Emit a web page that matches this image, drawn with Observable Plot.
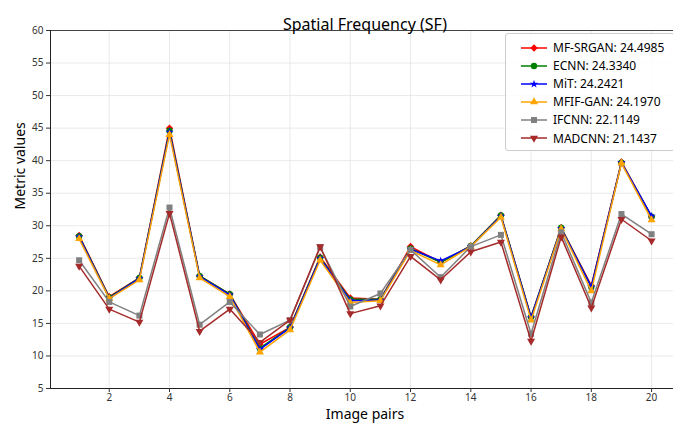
<!DOCTYPE html>
<html>
<head>
<meta charset="utf-8">
<script src="https://cdn.jsdelivr.net/npm/d3@7"></script>
<script src="https://cdn.jsdelivr.net/npm/@observablehq/plot@0.6"></script>
<style>
  html, body { margin: 0; padding: 0; background: #fff; }
  #wrap { position: relative; width: 673px; height: 423px; overflow: hidden; font-family: "Noto Sans", sans-serif; }
  #legend { position: absolute; left: 505px; top: 33px; width: 170px; height: 118px; box-sizing: border-box;
            border: 1px solid #cccccc; border-radius: 3px; background: rgba(255,255,255,0.85); }
  .row { position: absolute; left: 0; height: 18px; display: flex; align-items: center; }
  .row span { font-size: 12px; color: #000; white-space: nowrap; }
</style>
</head>
<body>
<div id="wrap"></div>
<script>
const pairs = [1,2,3,4,5,6,7,8,9,10,11,12,13,14,15,16,17,18,19,20];
const models = ["MF-SRGAN", "ECNN", "MiT", "MFIF-GAN", "IFCNN", "MADCNN"];
const scores = ["24.4985", "24.3340", "24.2421", "24.1970", "22.1149", "21.1437"];
const mfSrgan = [28.5, 19.1, 22.0, 45.0, 22.3, 19.5, 11.8, 14.4, 25.2, 18.9, 18.7, 26.8, 24.4, 26.9, 31.6, 16.0, 29.7, 20.8, 39.8, 31.4];
const ecnn    = [28.4, 19.0, 22.0, 44.6, 22.3, 19.5, 11.2, 14.4, 25.1, 18.7, 18.7, 26.5, 24.4, 26.9, 31.6, 16.0, 29.7, 20.6, 39.7, 31.4];
const mit     = [28.3, 18.9, 21.9, 44.4, 22.2, 19.4, 11.0, 14.3, 25.0, 18.5, 18.6, 26.4, 24.6, 26.8, 31.5, 15.9, 29.6, 20.6, 39.7, 31.5];
const mfifGan = [28.0, 18.8, 21.7, 44.0, 22.0, 19.1, 10.6, 14.0, 24.7, 18.2, 18.5, 26.2, 24.0, 26.8, 31.3, 15.5, 29.5, 20.0, 39.6, 30.9];
const ifcnn   = [24.7, 18.3, 16.2, 32.8, 14.8, 18.3, 13.3, 15.5, 26.7, 17.6, 19.6, 26.3, 22.1, 26.8, 28.6, 13.4, 29.0, 18.2, 31.8, 28.7];
const madcnn  = [23.8, 17.2, 15.2, 31.9, 13.8, 17.2, 12.1, 15.5, 26.8, 16.5, 17.7, 25.3, 21.7, 26.0, 27.5, 12.3, 28.3, 17.4, 31.0, 27.7];
const yTicks = [5,10,15,20,25,30,35,40,45,50,55,60];
const xTicks = [2,4,6,8,10,12,14,16,18,20];

const seriesValues = [mfSrgan, ecnn, mit, mfifGan, ifcnn, madcnn];
const colors = ["#ff0000", "#008000", "#0000ff", "#ffa500", "#808080", "#a52a2a"];
const symbols = ["square", "circle", "star", "triangle", "square", "triangle"];
const rotations = [45, 0, 0, 0, 0, 180];
const sizes = [3.0, 3.2, 2.6, 3.0, 3.4, 3.0];

const marks = [
  Plot.gridY(yTicks, {stroke: "#e4e4e4", strokeOpacity: 1, strokeWidth: 0.8}),
  Plot.gridX(xTicks, {stroke: "#e4e4e4", strokeOpacity: 1, strokeWidth: 0.8}),
  Plot.ruleY([60], {stroke: "#444", strokeWidth: 1}),
  Plot.ruleY([5], {stroke: "#222", strokeWidth: 1}),
  Plot.ruleX([0.05], {stroke: "#222", strokeWidth: 1}),
  Plot.axisY(yTicks, {tickSize: 4, tickPadding: 3, fontSize: 10, label: null, color: "#333"}),
  Plot.axisX(xTicks, {tickSize: 4, tickPadding: 1, fontSize: 10, label: null, color: "#333"})
];
seriesValues.forEach((vals, i) => {
  const data = pairs.map((p, j) => ({pair: p, value: vals[j]}));
  marks.push(Plot.line(data, {x: "pair", y: "value", stroke: colors[i], strokeWidth: 1.5}));
  marks.push(Plot.dot(data, {x: "pair", y: "value", fill: colors[i], stroke: "none", symbol: symbols[i], r: sizes[i], rotate: rotations[i]}));
});
marks.push(Plot.text(["Spatial Frequency (SF)"], {frameAnchor: "top", dx: 3, dy: -12, fontSize: 16, fill: "#000"}));
marks.push(Plot.text(["Image pairs"], {frameAnchor: "bottom", dx: 3, dy: 30.5, fontSize: 14, fill: "#000"}));
marks.push(Plot.text(["Metric values"], {frameAnchor: "left", dx: -30, rotate: -90, fontSize: 14, fill: "#000"}));

const chart = Plot.plot({
  width: 673,
  height: 423,
  marginTop: 30,
  marginBottom: 35,
  marginLeft: 50,
  marginRight: 0,
  x: {domain: [0.05, 20.95], range: [50, 679.7]},
  y: {domain: [5, 60]},
  style: {fontFamily: "Noto Sans, sans-serif", background: "#fff", overflow: "visible"},
  marks
});
const wrap = document.getElementById("wrap");
wrap.appendChild(chart);

// legend
const legend = document.createElement("div");
legend.id = "legend";
const symMap = {square: d3.symbolSquare, circle: d3.symbolCircle, star: d3.symbolStar, triangle: d3.symbolTriangle};
models.forEach((m, i) => {
  const row = document.createElement("div");
  row.className = "row";
  row.style.top = (4.5 + i * 18.1) + "px";
  const svg = d3.create("svg").attr("width", 47).attr("height", 18);
  svg.append("line").attr("x1", 15).attr("x2", 41).attr("y1", 9).attr("y2", 9)
     .attr("stroke", colors[i]).attr("stroke-width", 1.5);
  const area = Math.PI * sizes[i] * sizes[i];
  svg.append("path").attr("d", d3.symbol(symMap[symbols[i]], area)())
     .attr("transform", `translate(28,9) rotate(${rotations[i]})`).attr("fill", colors[i]);
  row.appendChild(svg.node());
  const span = document.createElement("span");
  span.textContent = `${m}: ${scores[i]}`;
  row.appendChild(span);
  legend.appendChild(row);
});
wrap.appendChild(legend);
</script>
</body>
</html>
